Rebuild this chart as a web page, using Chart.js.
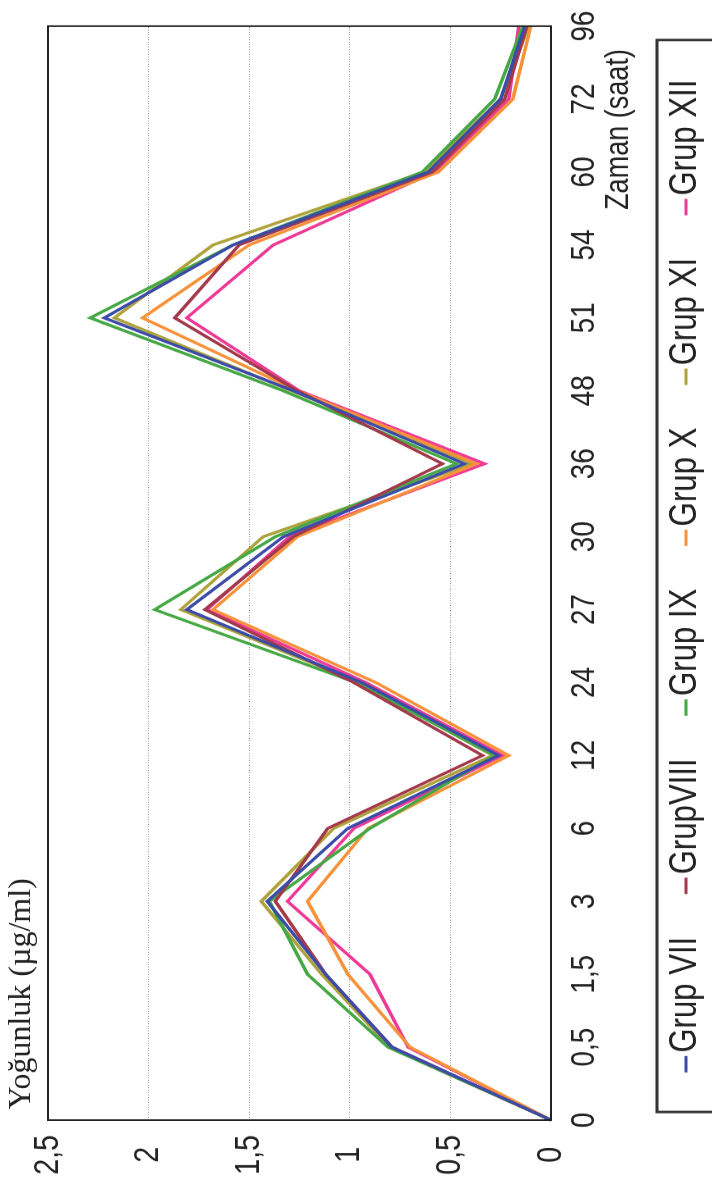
<!DOCTYPE html>
<html>
<head>
<meta charset="utf-8">
<script src="https://cdn.jsdelivr.net/npm/chart.js@4.4.1/dist/chart.umd.min.js"></script>
<style>
  html, body { margin: 0; padding: 0; background: #fff; }
  #page { position: relative; width: 712px; height: 1189px; overflow: hidden; }
  /* grafik yatay çizilir, sonra dar yazı için 0.82 sıkıştırılıp 90° döndürülür */
  #rot {
    position: absolute; left: 0; top: 0; width: 1450px; height: 712px;
    transform-origin: 0 0;
    transform: translate(0, 1189px) rotate(-90deg) scale(0.82, 1);
  }
</style>
</head>
<body>
<div id="page">
  <div id="rot"><canvas id="yogunlukChart" width="1450" height="712"></canvas></div>
</div>
<script>
const SX = 0.82;

// saat
const categories = ['0', '0,5', '1,5', '3', '6', '12', '24', '27', '30', '36', '48', '51', '54', '60', '72', '96'];
const valueTicks = ['0', '0,5', '1', '1,5', '2', '2,5'];

// Yoğunluk (µg/ml)
const grupVII  = [0, 0.79, 1.12, 1.41, 1.01, 0.26, 0.94, 1.81, 1.33, 0.43, 1.28, 2.22, 1.58, 0.61, 0.25, 0.13];
const grupVIII = [0, 0.79, 1.12, 1.37, 1.11, 0.34, 0.98, 1.72, 1.28, 0.54, 1.26, 1.87, 1.55, 0.59, 0.23, 0.12];
const grupIX   = [0, 0.81, 1.21, 1.40, 0.90, 0.28, 0.97, 1.97, 1.37, 0.47, 1.33, 2.29, 1.58, 0.64, 0.28, 0.14];
const grupX    = [0, 0.70, 1.01, 1.21, 0.91, 0.21, 0.87, 1.68, 1.26, 0.37, 1.26, 2.03, 1.50, 0.56, 0.19, 0.10];
const grupXI   = [0, 0.80, 1.14, 1.44, 1.08, 0.29, 0.95, 1.84, 1.43, 0.39, 1.29, 2.17, 1.68, 0.63, 0.25, 0.11];
const grupXII  = [0, 0.71, 0.90, 1.31, 0.98, 0.24, 0.92, 1.71, 1.30, 0.33, 1.25, 1.81, 1.38, 0.58, 0.21, 0.16];

const seriesNames = ['Grup VII', 'GrupVIII', 'Grup IX', 'Grup X', 'Grup XI', 'Grup XII'];
const seriesColors = ['#3a4ca8', '#a3394b', '#45a845', '#f7923a', '#aea23a', '#ee3a96'];
const seriesData = [grupVII, grupVIII, grupIX, grupX, grupXI, grupXII];

const sansFont = '"Liberation Sans", Arial, sans-serif';

// çerçeve, eksen başlıkları ve kutulu açıklama
const decorPlugin = {
  id: 'decor',
  afterDraw(chart) {
    const ctx = chart.ctx;
    const a = chart.chartArea;
    ctx.save();
    ctx.strokeStyle = '#222';
    ctx.lineWidth = 2;
    ctx.strokeRect(a.left, a.top, a.right - a.left, a.bottom - a.top);

    ctx.fillStyle = '#222';
    ctx.textBaseline = 'middle';
    ctx.textAlign = 'left';

    // serif başlık sıkıştırılmadan yazılır
    ctx.save();
    ctx.translate(a.left + 13, 22);
    ctx.scale(1 / SX, 1);
    ctx.font = '32px "Liberation Serif", "Times New Roman", serif';
    ctx.fillText('Yoğunluk (µg/ml)', 0, 0);
    ctx.restore();

    ctx.font = '33px ' + sansFont;
    ctx.fillText('Zaman (saat)', 979 / SX, 619);

    // açıklama
    const boxLeft = 77 / SX, boxRight = 1149 / SX, boxTop = 657;
    ctx.lineWidth = 3;
    ctx.strokeStyle = '#333';
    ctx.strokeRect(boxLeft, boxTop, boxRight - boxLeft, 80);
    ctx.font = '38px ' + sansFont;
    const mark = 20, markGap = 4, itemGap = 52;
    const items = chart.data.datasets.map(ds => ({ label: ds.label, color: ds.borderColor, w: ctx.measureText(ds.label).width }));
    const total = items.reduce((s, it) => s + mark + markGap + it.w, 0) + itemGap * (items.length - 1);
    let x = (boxLeft + boxRight) / 2 - total / 2;
    const cy = 686;
    items.forEach(it => {
      ctx.fillStyle = it.color;
      ctx.fillRect(x, cy - 1.5, mark, 3);
      x += mark + markGap;
      ctx.fillStyle = '#222';
      ctx.fillText(it.label, x, cy);
      x += it.w + itemGap;
    });
    ctx.restore();
  }
};

const ctx = document.getElementById('yogunlukChart').getContext('2d');
new Chart(ctx, {
  type: 'line',
  data: {
    labels: categories,
    datasets: seriesNames.map((name, i) => ({
      label: name,
      data: seriesData[i],
      borderColor: seriesColors[i],
      backgroundColor: seriesColors[i],
      borderWidth: 3.5,
      pointRadius: 0,
      tension: 0,
      fill: false
    }))
  },
  options: {
    responsive: false,
    animation: false,
    layout: { padding: { top: 48, right: 24, left: 0, bottom: 0 } },
    plugins: { legend: { display: false }, tooltip: { enabled: false } },
    scales: {
      x: {
        offset: false,
        grid: { display: false, drawTicks: false },
        border: { display: false },
        ticks: { color: '#222', font: { family: sansFont, size: 34 }, padding: 13, maxRotation: 0, autoSkip: false },
        afterFit(scale) { scale.height = 161; }
      },
      y: {
        min: 0,
        max: 2.5,
        grid: { color: '#8c8c8c', lineWidth: 1, drawTicks: false },
        border: { display: false, dash: [1, 2] },
        ticks: {
          stepSize: 0.5,
          color: '#222',
          font: { family: sansFont, size: 35 },
          crossAlign: 'center',
          padding: 18,
          callback: (v, i) => valueTicks[i]
        },
        afterFit(scale) { scale.width = 84; }
      }
    }
  },
  plugins: [decorPlugin]
});
</script>
</body>
</html>
